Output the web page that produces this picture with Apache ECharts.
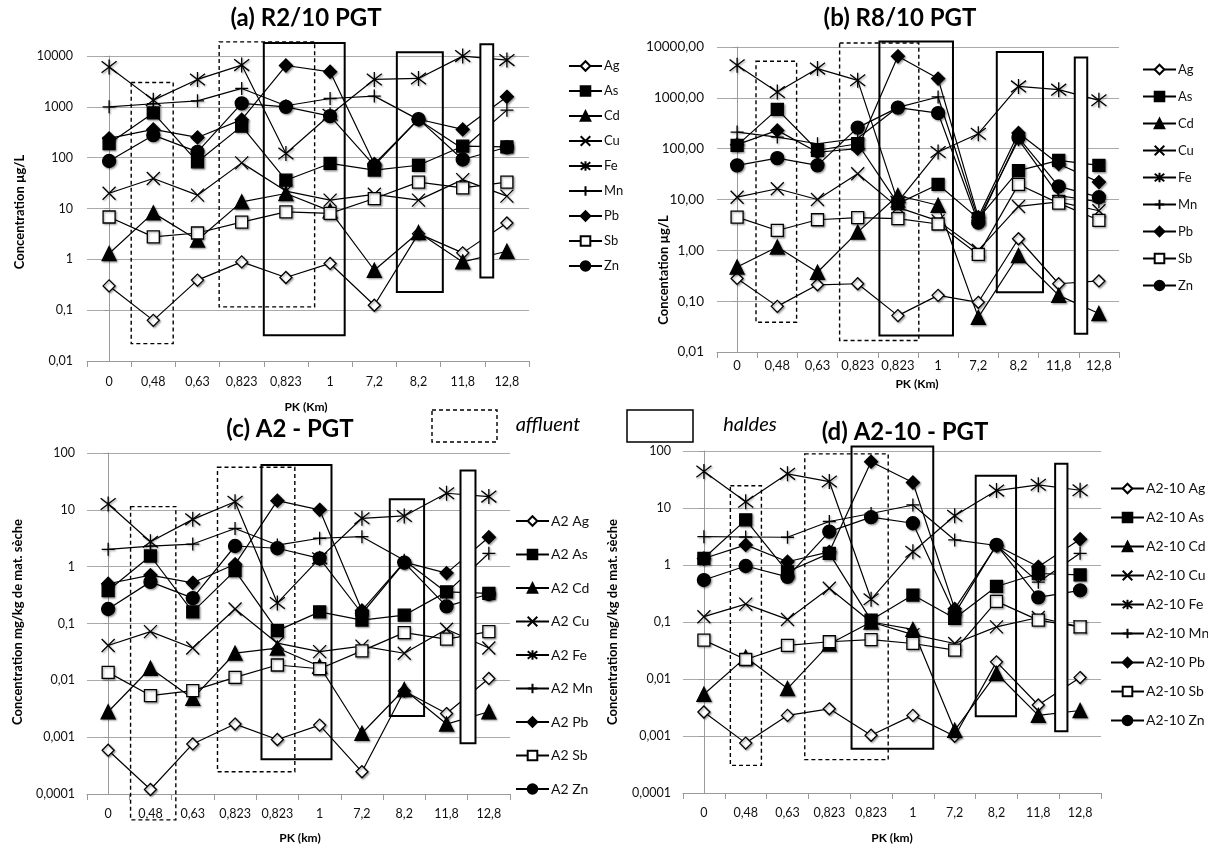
<!DOCTYPE html>
<html><head><meta charset="utf-8">
<script src="https://cdn.jsdelivr.net/npm/echarts@6/dist/echarts.min.js"></script>
<style>html,body{margin:0;padding:0;background:#fff}#c{width:1208px;height:852px}</style>
</head><body><div id="c"></div>
<script>
// ---------- categories & tick labels ----------
const categories = ["0","0,48","0,63","0,823","0,823","1","7,2","8,2","11,8","12,8"];
const elements = ["Ag","As","Cd","Cu","Fe","Mn","Pb","Sb","Zn"];
const yTicksA = ["0,01","0,1","1","10","100","1000","10000"];          // 1e-2 .. 1e4
const yTicksB = ["0,01","0,10","1,00","10,00","100,00","1000,00","10000,00"];
const yTicksCD = ["0,0001","0,001","0,01","0,1","1","10","100"];      // 1e-4 .. 1e2

// ---------- (a) R2/10 PGT, µg/L ----------
const R2_Ag = [0.3, 0.063, 0.39, 0.89, 0.44, 0.83, 0.125, 3.2, 1.34, 5.2];
const R2_As = [190, 760, 83, 417, 36, 77, 57, 71, 168, 163];
const R2_Cd = [1.3, 8.2, 2.4, 13.5, 19.7, 9, 0.61, 3.37, 0.89, 1.44];
const R2_Cu = [20, 39, 18.3, 79, 22, 14.6, 19, 14.6, 37, 17.5];
const R2_Fe = [6100, 1355, 3460, 6620, 121, 700, 3460, 3620, 9950, 8300];
const R2_Mn = [1000, 1150, 1310, 2300, 1050, 1460, 1625, 560, 150, 860];
const R2_Pb = [240, 360, 250, 560, 6500, 4890, 75, 570, 359, 1573];
const R2_Sb = [6.8, 2.76, 3.3, 5.4, 8.6, 8, 15.7, 33, 25.5, 33];
const R2_Zn = [86, 277, 130, 1170, 1000, 656, 70, 573, 92, 160];

// ---------- (b) R8/10 PGT, µg/L ----------
const R8_Ag = [0.28, 0.079, 0.21, 0.22, 0.052, 0.13, 0.095, 1.69, 0.22, 0.25];
const R8_As = [116, 594, 93, 125, 8.3, 19.8, 4.2, 37, 59, 47];
const R8_Cd = [0.47, 1.16, 0.37, 2.28, 12, 7.7, 0.048, 0.79, 0.13, 0.057];
const R8_Cu = [11.1, 16.3, 10, 32, 7, 3.8, 1.0, 7.3, 9, 6];
const R8_Fe = [4360, 1300, 3760, 2210, 9, 86, 197, 1680, 1450, 893];
const R8_Mn = [212, 169, 125, 160, 650, 1040, 4, 150, 12, 9];
const R8_Pb = [120, 229, 85, 100, 6560, 2390, 4.5, 203, 50, 22];
const R8_Sb = [4.5, 2.46, 4.0, 4.4, 4.2, 3.3, 0.83, 19.8, 8.5, 3.9];
const R8_Zn = [47, 65, 47, 259, 641, 502, 3.5, 165, 18.1, 11.1];

// ---------- (c) A2 - PGT, mg/kg ----------
const A2_Ag = [0.00059, 0.00012, 0.00076, 0.0017, 0.00091, 0.00163, 0.000246, 0.0065, 0.0026, 0.0108];
const A2_As = [0.38, 1.54, 0.16, 0.85, 0.075, 0.16, 0.115, 0.14, 0.36, 0.34];
const A2_Cd = [0.0028, 0.0163, 0.0048, 0.03, 0.037, 0.0177, 0.00117, 0.0069, 0.0017, 0.0028];
const A2_Cu = [0.041, 0.072, 0.037, 0.18, 0.045, 0.032, 0.04, 0.03, 0.079, 0.037];
const A2_Fe = [12.7, 2.75, 6.8, 13.9, 0.23, 1.4, 7.1, 7.8, 19.6, 17.1];
const A2_Mn = [2.02, 2.3, 2.5, 4.7, 2.4, 3.16, 3.37, 1.3, 0.35, 1.72];
const A2_Pb = [0.5, 0.71, 0.52, 1.1, 14.5, 10, 0.17, 1.2, 0.77, 3.3];
const A2_Sb = [0.0138, 0.0054, 0.0066, 0.0113, 0.0186, 0.016, 0.033, 0.069, 0.053, 0.072];
const A2_Zn = [0.18, 0.54, 0.28, 2.31, 2.11, 1.4, 0.15, 1.18, 0.2, 0.33];

// ---------- (d) A2-10 - PGT, mg/kg ----------
const A210_Ag = [0.00264, 0.00075, 0.0023, 0.003, 0.00103, 0.0023, 0.00099, 0.02, 0.0035, 0.0106];
const A210_As = [1.31, 6.2, 0.76, 1.6, 0.108, 0.297, 0.116, 0.42, 0.71, 0.67];
const A210_Cd = [0.0054, 0.024, 0.0068, 0.041, 0.1, 0.074, 0.00126, 0.0125, 0.0023, 0.0028];
const A210_Cu = [0.124, 0.206, 0.111, 0.39, 0.1, 0.06, 0.042, 0.082, 0.12, 0.082];
const A210_Fe = [43.6, 12.9, 39.7, 29.1, 0.25, 1.71, 7.3, 20.2, 25.5, 20.5];
const A210_Mn = [3.14, 3.1, 3.07, 5.8, 8, 11.3, 2.75, 2.2, 0.5, 1.6];
const A210_Pb = [1.3, 2.25, 1.14, 1.7, 65, 28, 0.17, 2.2, 0.93, 2.83];
const A210_Sb = [0.048, 0.022, 0.039, 0.045, 0.049, 0.042, 0.032, 0.23, 0.108, 0.082];
const A210_Zn = [0.545, 0.96, 0.62, 3.85, 6.9, 5.4, 0.14, 2.25, 0.27, 0.36];

// ---------- boxes: [x from, x to (category units), y low, y high, kind 0=affluent(dashed) 1=haldes 2=haldes narrow] ----------
const boxesA = [[0.5,1.45,0.022,3020,0],[2.49,4.65,0.116,19000,0],[3.5,5.33,0.032,18000,1],[6.51,7.55,0.228,11900,1],[8.40,8.69,0.44,17100,2]];
const boxesB = [[0.47,1.48,0.0386,5230,0],[2.55,4.52,0.0168,12000,0],[3.54,5.37,0.0211,12900,1],[6.46,7.61,0.15,7980,1],[8.40,8.71,0.0228,6180,2]];
const boxesC = [[0.53,1.6,0.000035,11.4,0],[2.585,4.413,0.000246,56,0],[3.625,5.28,0.000407,61.8,1],[6.658,7.469,0.00235,15.4,1],[8.33,8.684,0.00078,49,2]];
const boxesD = [[0.633,1.376,0.000305,24.5,0],[2.413,4.409,0.000385,89,0],[3.532,5.487,0.0006,120,1],[6.503,7.468,0.00222,36.7,1],[8.403,8.697,0.00121,59.6,2]];

// ---------- build ----------
const FONT = 'Lato, "Open Sans", sans-serif';
const SYM = {
  Ag:{symbol:'diamond', size:12, fill:'#fff'},
  As:{symbol:'rect', size:12, fill:'#000'},
  Cd:{symbol:'triangle', size:14, fill:'#000'},
  Cu:{symbol:'path://M0,0L10,10M10,0L0,10', size:13, fill:'#000'},
  Fe:{symbol:'path://M0,0L10,10M10,0L0,10M5,-1.5L5,11.5', size:15, fill:'#000'},
  Mn:{symbol:'path://M0,6L12,6M6,0L6,12', size:13, fill:'#000'},
  Pb:{symbol:'diamond', size:13, fill:'#000'},
  Sb:{symbol:'rect', size:12, fill:'#fff'},
  Zn:{symbol:'circle', size:13, fill:'#000'}
};
const panels = [
  {prefix:'', data:{Ag:R2_Ag,As:R2_As,Cd:R2_Cd,Cu:R2_Cu,Fe:R2_Fe,Mn:R2_Mn,Pb:R2_Pb,Sb:R2_Sb,Zn:R2_Zn},
   grid:{left:87,top:56,width:442,height:305}, ymin:0.01, ymax:10000, minExp:-2, ticks:yTicksA, boxes:boxesA,
   xl:{size:12.5, margin:14}, yl:{size:12.5, margin:14},
   legend:{left:563, top:54.5, itemGap:12, fontSize:13}},
  {prefix:'', data:{Ag:R8_Ag,As:R8_As,Cd:R8_Cd,Cu:R8_Cu,Fe:R8_Fe,Mn:R8_Mn,Pb:R8_Pb,Sb:R8_Sb,Zn:R8_Zn},
   grid:{left:717,top:47,width:402,height:305}, ymin:0.01, ymax:10000, minExp:-2, ticks:yTicksB, boxes:boxesB,
   xl:{size:13, margin:7}, yl:{size:13.5, margin:13},
   legend:{left:1137, top:58, itemGap:14, fontSize:13}},
  {prefix:'A2 ', data:{Ag:A2_Ag,As:A2_As,Cd:A2_Cd,Cu:A2_Cu,Fe:A2_Fe,Mn:A2_Mn,Pb:A2_Pb,Sb:A2_Sb,Zn:A2_Zn},
   grid:{left:87,top:453,width:423,height:341}, ymin:0.0001, ymax:100, minExp:-4, ticks:yTicksCD, boxes:boxesC,
   xl:{size:12.5, margin:13}, yl:{size:12.5, margin:12},
   legend:{left:510, top:509, itemGap:19.5, fontSize:14}},
  {prefix:'A2-10 ', data:{Ag:A210_Ag,As:A210_As,Cd:A210_Cd,Cu:A210_Cu,Fe:A210_Fe,Mn:A210_Mn,Pb:A210_Pb,Sb:A210_Sb,Zn:A210_Zn},
   grid:{left:683,top:451,width:418,height:342}, ymin:0.0001, ymax:100, minExp:-4, ticks:yTicksCD, boxes:boxesD,
   xl:{size:12.5, margin:13}, yl:{size:12.5, margin:12},
   legend:{left:1105, top:476.5, itemGap:15, fontSize:14}}
];

const grid=[], xAxis=[], yAxis=[], series=[], legend=[];
panels.forEach((p,i)=>{
  grid.push(p.grid);
  xAxis.push({gridIndex:i, type:'category', data:categories, boundaryGap:true,
    axisLine:{lineStyle:{color:'#9a9a9a',width:1}},
    axisTick:{show:true,length:6,interval:0,lineStyle:{color:'#9a9a9a'}},
    axisLabel:{interval:0, fontSize:p.xl.size, color:'#111', margin:p.xl.margin, fontFamily:FONT}, splitLine:{show:false}});
  yAxis.push({gridIndex:i, type:'log', logBase:10, min:p.ymin, max:p.ymax,
    axisLine:{show:true,lineStyle:{color:'#9a9a9a'}},
    axisTick:{show:true,length:5,lineStyle:{color:'#9a9a9a'}},
    splitLine:{show:true,lineStyle:{color:'#aaaaaa',width:1}},
    axisLabel:{fontSize:p.yl.size, color:'#111', margin:p.yl.margin, fontFamily:FONT,
      formatter:(v)=>p.ticks[Math.round(Math.log10(v))-p.minExp] || ''}});
  const names=[];
  elements.forEach(el=>{
    const s=SYM[el]; const nm=p.prefix+el; names.push(nm);
    series.push({type:'line', name:nm, xAxisIndex:i, yAxisIndex:i, data:p.data[el],
      symbol:s.symbol, symbolSize:s.size, showSymbol:true, silent:true,
      itemStyle:{color:s.fill, borderColor:'#000', borderWidth:1.3,
        shadowBlur:2, shadowOffsetX:1.2, shadowOffsetY:1.2, shadowColor:'rgba(0,0,0,0.35)'},
      lineStyle:{color:'#000', width:1.2}, emphasis:{disabled:true}, z:2});
  });
  legend.push({orient:'vertical', left:p.legend.left, top:p.legend.top, itemGap:p.legend.itemGap,
    itemWidth:33, itemHeight:12, data:names, selectedMode:false,
    textStyle:{fontSize:p.legend.fontSize, color:'#111', fontFamily:FONT, padding:[0,0,0,-3]}});
});
// hidden value axes for the boxes
panels.forEach((p,i)=>{
  xAxis.push({gridIndex:i, type:'value', min:-0.5, max:9.5, show:false});
  series.push({type:'custom', xAxisIndex:4+i, yAxisIndex:i, data:p.boxes, clip:false, silent:true, z:5,
    encode:{x:[0,1], y:[2,3]},
    renderItem:(params, api)=>{
      const a=api.coord([api.value(0), api.value(3)]);
      const b=api.coord([api.value(1), api.value(2)]);
      const k=api.value(4);
      return {type:'rect', shape:{x:a[0], y:a[1], width:b[0]-a[0], height:b[1]-a[1]},
        style:{fill: k===2?'#fff':'none', stroke:'#000', lineWidth: k===0?1.4:2, lineDash: k===0?[4,3]:null}};
    }});
});

const T = (text,x,y,font,rot)=>({type:'text', x:x, y:y, rotation:rot||0,
  style:{text:text, font:font, fill:'#000', textAlign:'center', textVerticalAlign:'middle'}});
const graphic = [
  T('(a) R2/10 PGT', 306, 18, 'bold 24px '+FONT),
  T('(b) R8/10 PGT', 900, 18, 'bold 24px '+FONT),
  T('(c) A2 - PGT', 290, 429, 'bold 24px '+FONT),
  T('(d) A2-10 - PGT', 905, 432, 'bold 24px '+FONT),
  T('Concentration µg/L', 20, 212, 'bold 13px '+FONT, Math.PI/2),
  T('Concentation µg/L', 664, 270, 'bold 13px '+FONT, Math.PI/2),
  T('Concentration mg/kg de mat. sèche', 18, 622, 'bold 13px '+FONT, Math.PI/2),
  T('Concentration mg/kg de mat. sèche', 613, 622, 'bold 13px '+FONT, Math.PI/2),
  T('PK (Km)', 306, 407, 'bold 12px '+FONT),
  T('PK (Km)', 917, 384, 'bold 12px '+FONT),
  T('PK (km)', 300, 838, 'bold 12px '+FONT),
  T('PK (km)', 892, 838, 'bold 12px '+FONT),
  {type:'rect', shape:{x:432,y:410,width:65,height:32}, style:{fill:'none',stroke:'#000',lineWidth:1.4,lineDash:[4,3]}},
  T('affluent', 548, 425, 'italic 20px '+FONT),
  {type:'rect', shape:{x:627,y:410,width:66,height:32}, style:{fill:'none',stroke:'#000',lineWidth:1.5}},
  T('haldes', 750, 425, 'italic 20px '+FONT)
];

const chart = echarts.init(document.getElementById('c'), null, {renderer:'canvas'});
chart.setOption({animation:false, backgroundColor:'#fff', grid, xAxis, yAxis, series, legend, graphic});
</script></body></html>
